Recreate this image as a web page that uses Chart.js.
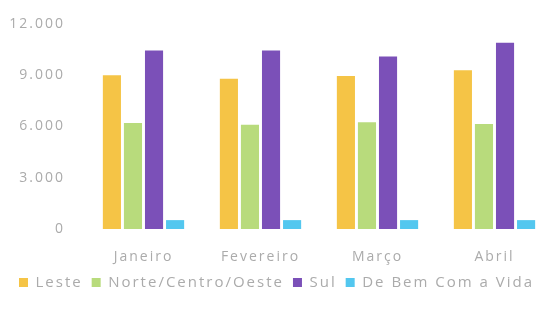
<!DOCTYPE html>
<html>
<head>
<meta charset="utf-8">
<script src="https://cdn.jsdelivr.net/npm/chart.js@4/dist/chart.umd.min.js"></script>
<style>
  html, body { margin: 0; padding: 0; background: #ffffff; }
  #wrap { width: 553px; height: 320px; position: relative; }
</style>
</head>
<body>
<div id="wrap"><canvas id="c" width="553" height="320"></canvas></div>
<script>
const categories = ["Janeiro", "Fevereiro", "Março", "Abril"];
const seriesNames = ["Leste", "Norte/Centro/Oeste", "Sul", "De Bem Com a Vida"];
const leste = [9000, 8800, 8950, 9300];
const norteCentroOeste = [6200, 6100, 6250, 6150];
const sul = [10450, 10450, 10100, 10900];
const deBemComAVida = [520, 520, 520, 520];
const yTicks = [0, 3000, 6000, 9000, 12000];

const colors = ["#f5c446", "#b8db7c", "#7b50b8", "#53c7ef"];
const values = [leste, norteCentroOeste, sul, deBemComAVida];

const fmt = v => String(v).replace(/\B(?=(\d{3})+(?!\d))/g, ".");

const spacing = {
  id: "spacing",
  beforeUpdate(chart) { chart.ctx.letterSpacing = "2px"; },
  beforeLayout(chart) { chart.ctx.letterSpacing = "2px"; },
  beforeDraw(chart) { chart.ctx.letterSpacing = "2px"; }
};

new Chart(document.getElementById("c"), {
  type: "bar",
  plugins: [spacing],
  data: {
    labels: categories,
    datasets: seriesNames.map((n, i) => ({
      label: n,
      data: values[i],
      backgroundColor: colors[i],
      borderWidth: 0,
      categoryPercentage: 0.72,
      barPercentage: 0.86
    }))
  },
  options: {
    responsive: false,
    animation: false,
    devicePixelRatio: 1,
    layout: { padding: { top: 24, right: 0, bottom: 20, left: 0 } },
    plugins: {
      legend: {
        position: "bottom",
        labels: {
          boxWidth: 9,
          boxHeight: 9,
          padding: 9,
          color: "#ababab",
          font: { family: "Open Sans", size: 15 }
        }
      },
      tooltip: { enabled: false }
    },
    scales: {
      x: {
        afterFit: s => { s.height = 37; },
        grid: { display: false },
        border: { display: false },
        ticks: {
          color: "#ababab",
          padding: 12,
          font: { family: "Open Sans", size: 14 }
        }
      },
      y: {
        min: 0,
        max: 12000,
        afterBuildTicks: s => { s.ticks = yTicks.map(v => ({ value: v })); },
        afterFit: s => { s.width = 85; },
        grid: { display: false },
        border: { display: false },
        ticks: {
          color: "#ababab",
          padding: 12,
          font: { family: "Open Sans", size: 14 },
          callback: v => fmt(v)
        }
      }
    }
  }
});
</script>
</body>
</html>
